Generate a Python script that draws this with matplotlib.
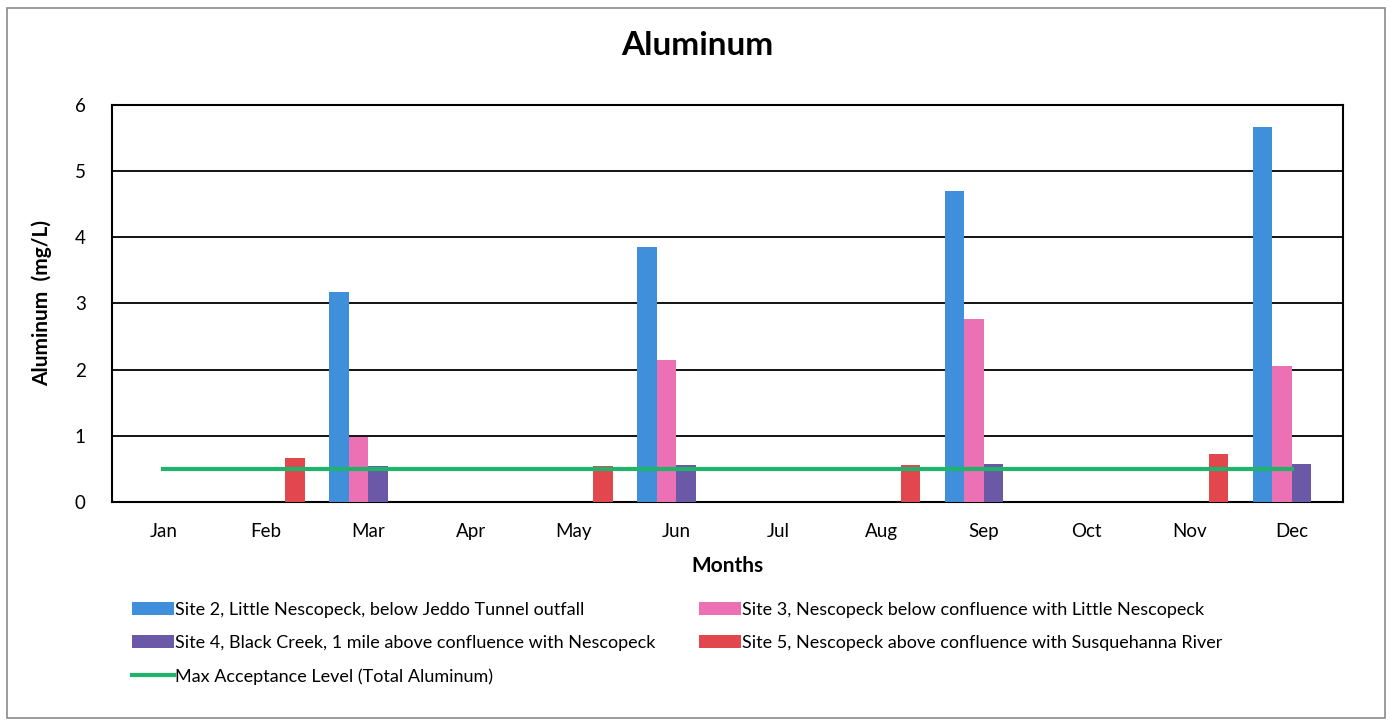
import numpy as np
import matplotlib.pyplot as plt
from matplotlib.patches import Rectangle

plt.rcParams['font.family'] = ['Lato', 'DejaVu Sans']

months = ['Jan', 'Feb', 'Mar', 'Apr', 'May', 'Jun',
          'Jul', 'Aug', 'Sep', 'Oct', 'Nov', 'Dec']
nan = np.nan
site2 = [nan, nan, 3.18, nan, nan, 3.86, nan, nan, 4.70, nan, nan, 5.66]
site3 = [nan, nan, 0.98, nan, nan, 2.15, nan, nan, 2.76, nan, nan, 2.06]
site4 = [nan, nan, 0.55, nan, nan, 0.56, nan, nan, 0.57, nan, nan, 0.57]
site5 = [nan, 0.67, nan, nan, 0.55, nan, nan, 0.56, nan, nan, 0.72, nan]
max_level = [0.5, 0.5, 0.5, 0.5, 0.5, 0.5, 0.5, 0.5, 0.5, 0.5, 0.5, 0.5]

labels = ['Site 2, Little Nescopeck, below Jeddo Tunnel outfall',
          'Site 3, Nescopeck below confluence with Little Nescopeck',
          'Site 4, Black Creek, 1 mile above confluence with Nescopeck',
          'Site 5, Nescopeck above confluence with Susquehanna River']
colors = ['#3f8fda', '#ec70b4', '#6b58a6', '#e2474d']

fig = plt.figure(figsize=(13.95, 7.23), dpi=100)
fig.patches.append(Rectangle((0.005, 0.007), 0.988, 0.982, transform=fig.transFigure,
                             fill=False, edgecolor='#8a8a8a', linewidth=1.2))
ax = fig.add_axes([0.0803, 0.3057, 0.8824, 0.5491])

x = np.arange(len(months))
w = 0.19
bars = []
for k, (vals, c, lab) in enumerate(zip([site2, site3, site4, site5], colors, labels)):
    b = ax.bar(x + (k - 1.5) * w, vals, w, color=c, label=lab, zorder=3)
    bars.append(b)
line, = ax.plot(x, max_level, color='#20b36b', linewidth=3.0, zorder=4,
                label='Max Acceptance Level (Total Aluminum)')

ax.set_xlim(-0.5, 11.5)
ax.set_ylim(0, 6)
ax.set_yticks(range(7))
ax.set_xticks(x)
ax.set_xticklabels(months)
ax.grid(axis='y', color='black', linewidth=1.3, zorder=0)
for s in ax.spines.values():
    s.set_color('black')
    s.set_linewidth(1.5)
ax.tick_params(axis='both', length=0, labelsize=13.5)
ax.tick_params(axis='y', pad=19)
ax.tick_params(axis='x', pad=15)

fig.text(0.5, 0.937, 'Aluminum', fontsize=24, fontweight='bold', ha='center', va='center')
ax.set_xlabel('Months', fontsize=15, fontweight='bold', labelpad=12)
ax.set_ylabel('Aluminum  (mg/L)', fontsize=15, fontweight='bold', labelpad=16)

handles = [bars[0], bars[2], line, bars[1], bars[3]]
names = [labels[0], labels[2], line.get_label(), labels[1], labels[3]]
fig.legend(handles, names, ncol=2, loc='upper left', bbox_to_anchor=(0.083, 0.19),
           frameon=False, fontsize=13, handlelength=2.3, handletextpad=0.1,
           columnspacing=2.4, labelspacing=0.95)

fig.savefig('out.png', dpi=100)
